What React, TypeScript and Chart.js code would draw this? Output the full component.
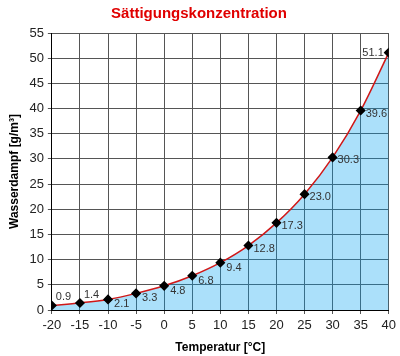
import React, { useEffect, useRef } from "react";
import { Chart, registerables } from "chart.js";

Chart.register(...registerables);

const temperatures = [-20, -15, -10, -5, 0, 5, 10, 15, 20, 25, 30, 35, 40];
const saturation = [0.9, 1.4, 2.1, 3.3, 4.8, 6.8, 9.4, 12.8, 17.3, 23.0, 30.3, 39.6, 51.1];
const titleText = "Sättigungskonzentration";
const xTitle = "Temperatur [°C]";
const yTitle = "Wasserdampf [g/m³]";

const FONT = "'Liberation Sans', Arial, sans-serif";

const valueLabels = {
  id: "valueLabels",
  afterDatasetsDraw(chart: any) {
    const ctx = chart.ctx;
    const meta = chart.getDatasetMeta(0);
    const n = meta.data.length;
    ctx.save();
    ctx.font = `11px ${FONT}`;
    ctx.fillStyle = "#333";
    ctx.textBaseline = "middle";
    meta.data.forEach((pt: any, i: number) => {
      const txt = saturation[i].toFixed(1);
      let x = pt.x + 5;
      let y = pt.y + 3;
      ctx.textAlign = "left";
      if (i < 2) {
        x = pt.x + 4;
        y = pt.y - 8;
      } else if (i === n - 1) {
        ctx.textAlign = "right";
        x = pt.x - 5;
        y = pt.y;
      } else if (i < 7) {
        x = pt.x + 6;
        y = pt.y + 5;
      }
      ctx.fillText(txt, x, y);
    });
    ctx.restore();
  },
};

export default function App() {
  const ref = useRef<HTMLCanvasElement>(null);
  useEffect(() => {
    document.body.style.margin = "0";
    const chart = new Chart(ref.current!, {
      type: "line",
      data: {
        datasets: [
          {
            data: saturation.map((y, i) => ({ x: temperatures[i], y })) as any,
            borderColor: "#d01818",
            borderWidth: 1.5,
            backgroundColor: "rgba(0,160,240,0.33)",
            fill: "origin",
            cubicInterpolationMode: "monotone",
            pointStyle: "rectRot",
            pointRadius: 4,
            pointBackgroundColor: "#000",
            pointBorderColor: "#000",
          },
        ],
      } as any,
      options: {
        animation: false,
        responsive: false,
        layout: { padding: { left: 7, right: 9, top: 2, bottom: 1 } },
        plugins: {
          legend: { display: false },
          tooltip: { enabled: false },
          title: {
            display: true,
            text: titleText,
            color: "#e00000",
            font: { family: FONT, size: 15, weight: "bold" },
            padding: { top: 3, bottom: 10 },
          },
        },
        scales: {
          x: {
            type: "linear",
            min: -20,
            max: 40,
            ticks: { stepSize: 5, color: "#222", font: { family: FONT, size: 13 }, padding: 4 },
            grid: { color: "#555", lineWidth: 1, tickLength: 4, tickColor: "#555" },
            border: { color: "#000", width: 1 },
            title: {
              display: true,
              text: xTitle,
              color: "#000",
              font: { family: FONT, size: 12, weight: "bold" },
              padding: { top: 3, bottom: 0 },
            },
          },
          y: {
            min: 0,
            max: 55,
            ticks: { stepSize: 5, color: "#222", font: { family: FONT, size: 13 }, padding: 4 },
            grid: { color: "#555", lineWidth: 1, tickLength: 4, tickColor: "#555" },
            border: { color: "#000", width: 1 },
            title: {
              display: true,
              text: yTitle,
              color: "#000",
              font: { family: FONT, size: 12, weight: "bold" },
              padding: { top: 0, bottom: 4 },
            },
          },
        },
      } as any,
      plugins: [valueLabels],
    });
    return () => chart.destroy();
  }, []);
  return (
    <div style={{ position: "fixed", left: 0, top: 0, width: 400, height: 356, background: "#fff" }}>
      <canvas ref={ref} width={400} height={356} />
    </div>
  );
}
